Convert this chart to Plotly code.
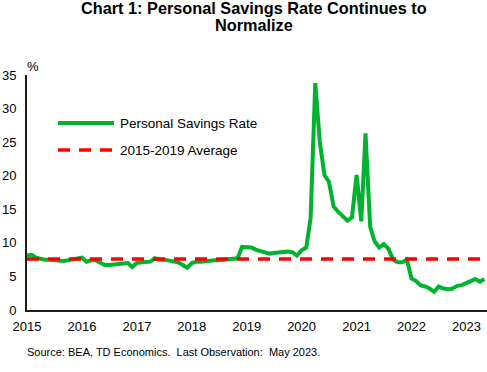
import plotly.graph_objects as go
import pandas as pd

# Monthly personal savings rate, Jan 2015 - May 2023 (%)
rate_2015 = [8.1, 8.2, 7.8, 7.6, 7.5, 7.5, 7.4, 7.4, 7.3, 7.4, 7.5, 7.6]
rate_2016 = [7.8, 7.2, 7.4, 7.4, 7.1, 6.7, 6.7, 6.8, 6.8, 6.9, 7.0, 6.4]
rate_2017 = [7.0, 7.1, 7.1, 7.2, 7.7, 7.5, 7.5, 7.4, 7.3, 7.1, 6.7, 6.3]
rate_2018 = [7.0, 7.2, 7.2, 7.3, 7.3, 7.4, 7.4, 7.5, 7.6, 7.6, 7.7, 9.4]
rate_2019 = [9.3, 9.3, 9.0, 8.8, 8.6, 8.4, 8.5, 8.6, 8.7, 8.7, 8.6, 8.1]
rate_2020 = [8.9, 9.3, 13.7, 33.8, 25.1, 20.1, 19.1, 15.4, 14.6, 13.9, 13.3, 13.8]
rate_2021 = [20.1, 13.2, 26.3, 12.4, 10.2, 9.3, 9.8, 9.1, 7.5, 7.1, 7.1, 7.5]
rate_2022 = [4.7, 4.3, 3.7, 3.5, 3.2, 2.7, 3.5, 3.2, 3.1, 3.2, 3.6, 3.7]
rate_2023 = [4.0, 4.3, 4.6, 4.2, 4.6]

savings_rate = rate_2015 + rate_2016 + rate_2017 + rate_2018 + rate_2019 + rate_2020 + rate_2021 + rate_2022 + rate_2023
months = pd.date_range("2015-01-01", periods=len(savings_rate), freq="MS")

avg_2015_2019 = 7.6
year_ticks = [f"{y}-01-01" for y in range(2015, 2024)]
year_labels = [str(y) for y in range(2015, 2024)]
y_ticks = [0, 5, 10, 15, 20, 25, 30, 35]

title_lines = ["Chart 1: Personal Savings Rate Continues to", "Normalize"]
series_names = ["Personal Savings Rate", "2015-2019 Average"]
source_text = "Source: BEA, TD Economics.&nbsp; Last Observation:&nbsp; May 2023."
green = "#00B32E"
red = "#FF0000"
font_family = "Liberation Sans, Arial, sans-serif"

fig = go.Figure()
fig.add_trace(go.Scatter(
    x=months, y=savings_rate, mode="lines", name=series_names[0],
    line=dict(color=green, width=4), showlegend=False,
))
fig.add_trace(go.Scatter(
    x=[months[0], months[-1] + pd.Timedelta(days=20)], y=[avg_2015_2019, avg_2015_2019],
    mode="lines", name=series_names[1],
    line=dict(color=red, width=3.5, dash="12px,9px"), showlegend=False,
))

W, H = 487, 372
ml, mr, mt, mb = 27, 0, 75, 62
pw, ph = W - ml - mr, H - mt - mb


def px_x(x):
    return (x - ml) / pw


def px_y(y):
    return (H - mb - y) / ph


# Custom legend (paper coordinates)
legend_items = [
    (series_names[0], green, 123, "solid", 4),
    (series_names[1], red, 150, "12px,9px", 3.5),
]
for name, col, ypix, dash, w in legend_items:
    fig.add_shape(type="line", xref="paper", yref="paper",
                  x0=px_x(58), x1=px_x(114), y0=px_y(ypix), y1=px_y(ypix),
                  line=dict(color=col, width=w, dash=dash))
    fig.add_annotation(text=name, xref="paper", yref="paper",
                       x=px_x(118), y=px_y(ypix), xanchor="left", yanchor="middle",
                       showarrow=False, font=dict(size=13.5, color="#000000", family=font_family))

fig.add_annotation(text="%", xref="paper", yref="paper", x=px_x(25), y=px_y(67),
                   xanchor="left", yanchor="middle", showarrow=False,
                   font=dict(size=13, color="#000000", family=font_family))
fig.add_annotation(text=source_text,
                   xref="paper", yref="paper", x=px_x(25), y=px_y(352),
                   xanchor="left", yanchor="middle", showarrow=False,
                   font=dict(size=11, color="#000000", family=font_family))
for line_text, ypix in zip(title_lines, [7.5, 25.5]):
    fig.add_annotation(text=f"<b>{line_text}</b>",
                       xref="paper", yref="paper", x=px_x(254), y=px_y(ypix),
                       xanchor="center", yanchor="middle", showarrow=False,
                       font=dict(size=16.3, color="#000000", family=font_family))

axis_common = dict(showgrid=False, zeroline=False, showline=True, linecolor="#1f1f14",
                   linewidth=2, ticks="", tickfont=dict(size=13), automargin=False)

fig.update_layout(
    width=W, height=H,
    margin=dict(l=ml, r=mr, t=mt, b=mb, autoexpand=False),
    paper_bgcolor="white", plot_bgcolor="white",
    font=dict(family=font_family, size=13, color="#000000"),
    xaxis=dict(range=["2015-01-01", "2023-05-18"], tickvals=year_ticks, ticktext=year_labels,
               ticklabelstandoff=3, **axis_common),
    yaxis=dict(range=[0, 35], tickvals=y_ticks, ticklabelstandoff=6, **axis_common),
)

fig.write_html(
    "out.html",
    config={"displayModeBar": False},
    post_script="document.body.style.margin='0';document.body.style.overflow='hidden';",
)
